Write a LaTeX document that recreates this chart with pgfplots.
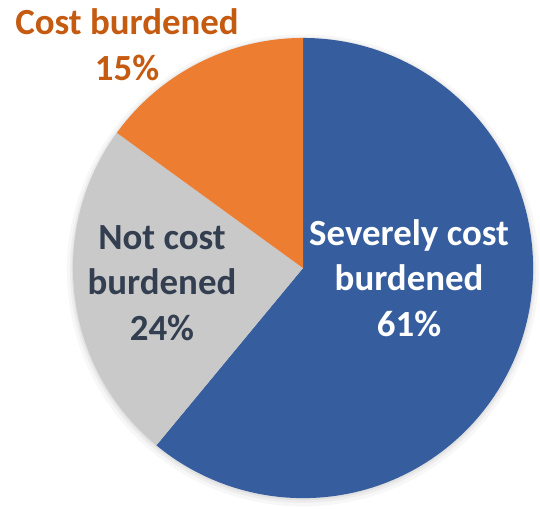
\documentclass[border=0pt]{standalone}
\usepackage{pgfplots}
\pgfplotsset{compat=1.18}
\usepackage{pgfplotstable}
\usepackage{fontspec}
\setmainfont{Carlito}

\definecolor{sevblue}{RGB}{54,94,159}
\definecolor{notgray}{RGB}{201,201,201}
\definecolor{costorange}{RGB}{237,125,49}
\definecolor{orangetext}{RGB}{197,90,17}
\definecolor{darktext}{RGB}{51,63,80}

% share of households, percent (clockwise from 12 o'clock)
\pgfplotstableread{
group value
severe 61
not 24
cost 15
}\piedata

\begin{document}
\begin{tikzpicture}
  \pgfplotstablegetelem{0}{value}\of\piedata \let\va\pgfplotsretval
  \pgfplotstablegetelem{1}{value}\of\piedata \let\vb\pgfplotsretval
  \pgfplotstablegetelem{2}{value}\of\piedata \let\vc\pgfplotsretval
  \pgfmathsetmacro\aA{90}
  \pgfmathsetmacro\aB{\aA-3.6*\va}
  \pgfmathsetmacro\aC{\aB-3.6*\vb}
  \pgfmathsetmacro\aD{\aC-3.6*\vc}
  \begin{axis}[
      x=230bp, y=230bp,
      xmin=-1.317, xmax=1.030,
      ymin=-1.043, ymax=1.165,
      hide axis,
      clip=false,
      scale only axis,
  ]
  \path (axis cs:-1.317,-1.043) rectangle (axis cs:1.030,1.165);
  % soft shadow
  \fill[black, opacity=0.03] (axis cs:0,-0.01) circle[radius=236bp];
  \fill[black, opacity=0.04] (axis cs:0,-0.008) circle[radius=233bp];
  \fill[black, opacity=0.05] (axis cs:0,-0.005) circle[radius=231bp];
  % slices
  \fill[sevblue] (axis cs:0,0) -- (axis cs:{cos(\aA)},{sin(\aA)})
      arc[start angle=\aA, end angle=\aB, radius=230bp] -- cycle;
  \fill[notgray] (axis cs:0,0) -- (axis cs:{cos(\aB)},{sin(\aB)})
      arc[start angle=\aB, end angle=\aC, radius=230bp] -- cycle;
  \fill[costorange] (axis cs:0,0) -- (axis cs:{cos(\aC)},{sin(\aC)})
      arc[start angle=\aC, end angle=\aD, radius=230bp] -- cycle;
  % labels
  \node[align=center, text=white, font=\fontsize{37}{45.5}\selectfont\bfseries]
      at (axis cs:0.461,-0.043) {Severely cost\\burdened\\61\%};
  \node[align=center, text=darktext, font=\fontsize{37}{45.5}\selectfont\bfseries]
      at (axis cs:-0.613,-0.065) {Not cost\\burdened\\24\%};
  \node[align=center, text=orangetext, font=\fontsize{37}{45.5}\selectfont\bfseries]
      at (axis cs:-0.765,0.970) {Cost burdened\\15\%};
  \end{axis}
\end{tikzpicture}
\end{document}
